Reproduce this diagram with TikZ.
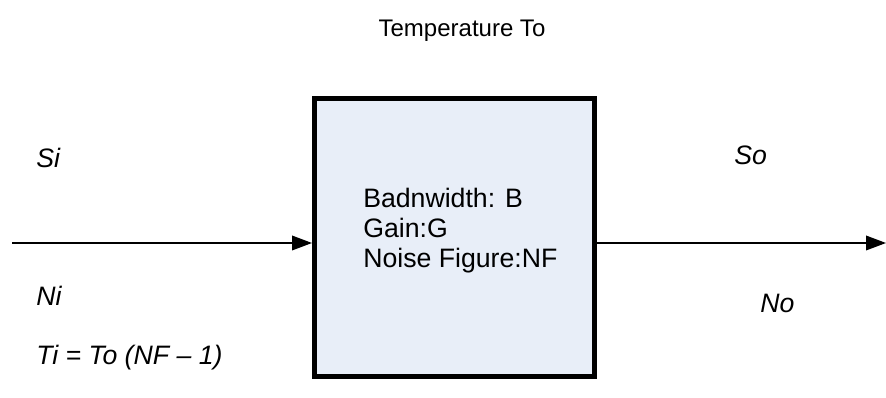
\documentclass[tikz,border=0pt]{standalone}
\usepackage{fontspec}
\setmainfont{Liberation Sans}
\usetikzlibrary{arrows.meta}
\definecolor{boxfill}{RGB}{232,238,248}
\begin{document}
\begin{tikzpicture}[x=0.75pt,y=-0.75pt,
  lbl/.style={font=\fontsize{20}{23}\selectfont\itshape, inner sep=0pt},
  txt/.style={font=\fontsize{20}{22.5}\selectfont, inner sep=0pt},
  ttl/.style={font=\fontsize{18}{21}\selectfont, inner sep=0pt},
  amp/.style={draw=black, line width=3.75pt, fill=boxfill, minimum width=280*0.75pt, minimum height=278*0.75pt, inner sep=0pt},
  arr/.style={line width=1.1pt, -{Triangle[length=15pt,width=11pt]}}]
\useasboundingbox (0,0) rectangle (886,398);
\node[amp] (box) at (454.5,238) {};
\node[txt, align=left, anchor=west] (spec) at (363,231) {Badnwidth: B\\Gain:G\\Noise Figure:NF};
\node[ttl] (temp) at (462,31) {Temperature To};
\node[lbl, anchor=west] (si) at (36,158) {Si};
\node[lbl, anchor=west] (ni) at (36,296) {Ni};
\node[lbl, anchor=west] (so) at (734,155) {So};
\node[lbl, anchor=west] (no) at (760,303) {No};
\node[lbl, anchor=west] (ti) at (36,358) {Ti = To (NF – 1)};
\coordinate (inL) at (12,243);
\coordinate (outR) at (886,243);
\draw[arr] (inL) -- (inL -| box.west);
\draw[arr] (outR -| box.east) -- (outR);
\end{tikzpicture}
\end{document}
